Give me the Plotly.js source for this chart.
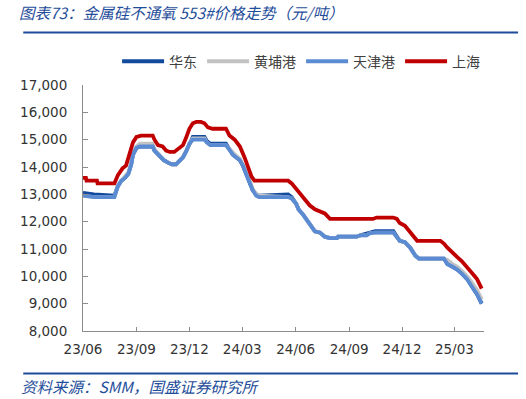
<!DOCTYPE html>
<html>
<head>
<meta charset="utf-8">
<script src="https://cdn.plot.ly/plotly-3.0.1.min.js"></script>
<style>html,body{margin:0;padding:0;background:#fff}#chart{width:526px;height:399px}</style>
</head>
<body>
<div id="chart"></div>
<script>
// ---- data ----
const seriesNames = ["华东", "黄埔港", "天津港", "上海"];

const shDates = ["2023-06-01","2023-06-06","2023-06-07","2023-06-25","2023-06-26","2023-07-25","2023-07-31","2023-08-08","2023-08-14","2023-08-20","2023-08-26","2023-09-01","2023-09-09","2023-09-29","2023-10-02","2023-10-08","2023-10-16","2023-10-22","2023-10-28","2023-11-05","2023-11-11","2023-11-20","2023-11-25","2023-12-01","2023-12-07","2023-12-13","2023-12-21","2023-12-27","2024-01-02","2024-01-10","2024-02-02","2024-02-08","2024-02-17","2024-02-26","2024-03-05","2024-03-11","2024-03-17","2024-03-22","2024-05-19","2024-05-25","2024-06-02","2024-06-08","2024-06-17","2024-06-25","2024-07-04","2024-07-13","2024-07-21","2024-07-30","2024-10-12","2024-10-18","2024-11-16","2024-11-22","2024-11-27","2024-12-06","2024-12-12","2024-12-21","2024-12-27","2025-02-05","2025-02-11","2025-02-17","2025-02-26","2025-03-06","2025-03-14","2025-03-23","2025-04-01","2025-04-09","2025-04-17"];
const shValues = [13600,13600,13500,13500,13400,13400,13700,13950,14050,14450,14900,15100,15150,15150,15000,14800,14750,14600,14550,14550,14650,14800,15050,15400,15600,15650,15650,15600,15450,15400,15400,15150,15000,14750,14350,13950,13650,13500,13500,13400,13200,13050,12850,12600,12450,12350,12300,12100,12100,12150,12150,12100,11950,11850,11700,11500,11300,11300,11200,11050,10850,10700,10550,10350,10100,9900,9550];

const tjDates = ["2023-06-01","2023-06-20","2023-07-25","2023-07-31","2023-08-06","2023-08-12","2023-08-18","2023-08-23","2023-08-26","2023-09-01","2023-09-07","2023-09-29","2023-10-02","2023-10-10","2023-10-18","2023-10-26","2023-11-01","2023-11-08","2023-11-14","2023-11-20","2023-11-25","2023-12-01","2023-12-07","2023-12-27","2023-12-31","2024-01-06","2024-02-02","2024-02-08","2024-02-14","2024-02-20","2024-02-26","2024-03-02","2024-03-08","2024-03-14","2024-03-19","2024-03-25","2024-03-30","2024-05-19","2024-05-25","2024-06-02","2024-06-06","2024-06-14","2024-06-22","2024-06-28","2024-07-04","2024-07-13","2024-07-21","2024-07-30","2024-08-11","2024-08-13","2024-09-14","2024-09-20","2024-10-01","2024-10-07","2024-10-16","2024-11-16","2024-11-22","2024-11-27","2024-12-06","2024-12-15","2024-12-24","2024-12-30","2025-02-11","2025-02-17","2025-02-26","2025-03-06","2025-03-14","2025-03-23","2025-04-01","2025-04-09","2025-04-17"];
const tjValues = [12950,12900,12900,13300,13500,13600,13750,14100,14450,14700,14750,14750,14600,14400,14250,14150,14100,14100,14250,14350,14550,14850,15000,15000,14900,14800,14800,14600,14450,14350,14250,14050,13750,13450,13150,12950,12900,12900,12850,12650,12450,12250,12000,11800,11650,11600,11450,11400,11400,11450,11450,11500,11500,11580,11600,11600,11450,11300,11250,11050,10750,10650,10650,10450,10350,10250,10100,9900,9600,9350,9000];

const hdValues = [13050,13000,12950,13300,13500,13600,13750,14100,14450,14700,14750,14750,14600,14400,14250,14150,14100,14100,14250,14350,14550,14850,15100,15100,14950,14850,14850,14650,14450,14350,14250,14050,13750,13450,13150,13000,12950,13000,12900,12650,12450,12250,12000,11800,11650,11600,11450,11400,11400,11450,11450,11500,11550,11600,11650,11650,11450,11300,11250,11050,10750,10650,10650,10450,10350,10250,10100,9900,9600,9350,9000];

const hpValues = [12950,12900,12900,13300,13500,13650,13800,14150,14500,14750,14850,14850,14650,14450,14250,14150,14100,14100,14250,14350,14550,14850,15050,15050,14900,14800,14800,14650,14500,14400,14300,14100,13800,13500,13200,13000,12950,12900,12850,12650,12450,12250,12000,11800,11650,11600,11450,11400,11400,11450,11450,11500,11500,11580,11600,11600,11450,11300,11250,11050,10750,10650,10650,10600,10450,10350,10200,10000,9750,9500,9150];

const xTickStart = "2023-06-01";
const xRange = ["2023-06-01", "2025-04-21"];
const yRange = [8000, 17000];

const titleText = "图表73：金属硅不通氧 553#价格走势（元/吨）";
const sourceText = "资料来源：SMM，国盛证券研究所";

const colors = ["#124a9e", "#c3c3c3", "#5b8bd2", "#c00000"];

// ---- traces ----
const cjk = "'Noto Sans CJK SC', 'Noto Sans', sans-serif";
function tr(name, x, y, color) {
  return {type: "scatter", mode: "lines", name: name, x: x, y: y,
          line: {color: color, width: 3.8}, hoverinfo: "skip"};
}
const data = [
  tr(seriesNames[0], tjDates, hdValues, colors[0]),
  tr(seriesNames[1], tjDates, hpValues, colors[1]),
  tr(seriesNames[2], tjDates, tjValues, colors[2]),
  tr(seriesNames[3], shDates, shValues, colors[3])
];

const axisCol = "#8c8c8c";
const layout = {
  width: 526, height: 399,
  margin: {l: 83, r: 42, t: 84.5, b: 68},
  paper_bgcolor: "#fff", plot_bgcolor: "#fff",
  showlegend: true,
  legend: {orientation: "h", x: 0.085, xanchor: "left", y: 1.095, yanchor: "middle",
           font: {family: cjk, size: 14, color: "#404040"}, itemwidth: 42,
           bgcolor: "rgba(0,0,0,0)"},
  xaxis: {type: "date", range: xRange, tick0: xTickStart, dtick: "M3", tickformat: "%y/%m",
          showgrid: false, zeroline: false, showline: true, linecolor: axisCol, linewidth: 1,
          ticks: "inside", ticklen: 4, tickcolor: axisCol, ticklabelstandoff: 6,
          tickfont: {family: "'DejaVu Sans', sans-serif", size: 13.5, color: "#333"}},
  yaxis: {range: yRange, dtick: 1000, tickformat: ",d",
          showgrid: false, zeroline: false, showline: true, linecolor: axisCol, linewidth: 1,
          ticks: "inside", ticklen: 5, tickcolor: axisCol, ticklabelstandoff: 12,
          tickfont: {family: "'DejaVu Sans', sans-serif", size: 13.5, color: "#333"}},
  shapes: [
    {type: "line", xref: "paper", yref: "paper", x0: -0.149, x1: 1.085, y0: 1.213, y1: 1.213,
     line: {color: "#1d4c9c", width: 2}},
    {type: "line", xref: "paper", yref: "paper", x0: -0.149, x1: 1.085, y0: -0.173, y1: -0.173,
     line: {color: "#1d4c9c", width: 2}}
  ],
  annotations: [
    {xref: "paper", yref: "paper", x: -0.165, y: 1.297, xanchor: "left", yanchor: "middle",
     text: titleText, showarrow: false,
     font: {family: cjk, size: 15.5, color: "#1f4e9a", style: "italic"}},
    {xref: "paper", yref: "paper", x: -0.16, y: -0.222, xanchor: "left", yanchor: "middle",
     text: sourceText, showarrow: false,
     font: {family: cjk, size: 15.5, color: "#1f4e9a", style: "italic"}}
  ]
};

Plotly.newPlot("chart", data, layout, {displayModeBar: false, staticPlot: true});
</script>
</body>
</html>
